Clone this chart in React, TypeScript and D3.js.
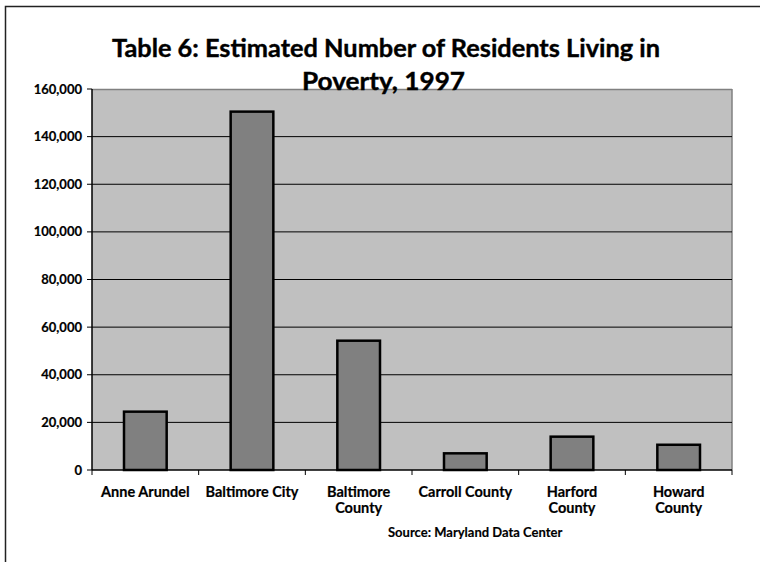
import React from "react";
import * as d3 from "d3";

const counties = ["Anne Arundel", "Baltimore City", "Baltimore County", "Carroll County", "Harford County", "Howard County"];
const countyLabels = [["Anne Arundel"], ["Baltimore City"], ["Baltimore", "County"], ["Carroll County"], ["Harford", "County"], ["Howard", "County"]];
const residents = [24500, 150500, 54300, 7000, 14000, 10600];
const yTicks = [0, 20000, 40000, 60000, 80000, 100000, 120000, 140000, 160000];

const W = 760;
const H = 562;
const plot = { left: 92, right: 732, top: 89, bottom: 470 };
const FONT = "Lato, 'DejaVu Sans', sans-serif";

export default function App() {
  const x = d3.scaleBand<string>().domain(counties).range([plot.left, plot.right]).padding(0);
  const y = d3.scaleLinear().domain([0, 160000]).range([plot.bottom, plot.top]);
  const barW = x.bandwidth() / 2.5;
  const fmt = d3.format(",");
  const bounds = counties.map((c) => x(c)!).concat([plot.right]);

  const title2 = (
    <text x={383.5} y={90} textAnchor="middle" fontSize={25} fontWeight="bold" fill="#000"
      stroke="#000" strokeWidth={0.4} textLength={163} lengthAdjust="spacingAndGlyphs">
      Poverty, 1997
    </text>
  );

  return (
    <svg width={W} height={H} style={{ position: "absolute", left: 0, top: 0, display: "block" }} fontFamily={FONT}>
      <rect x={0} y={0} width={W} height={H} fill="#fff" />
      {/* outer frame */}
      <rect x={5.5} y={6.5} width={W + 20} height={H + 20} fill="none" stroke="#222" strokeWidth={1.5} />

      {/* title */}
      <text x={386} y={57} textAnchor="middle" fontSize={25} fontWeight="bold" fill="#000"
        stroke="#000" strokeWidth={0.4} textLength={548} lengthAdjust="spacingAndGlyphs">
        Table 6: Estimated Number of Residents Living in
      </text>

      {/* plot area */}
      <rect x={plot.left} y={plot.top} width={plot.right - plot.left} height={plot.bottom - plot.top} fill="#c0c0c0" />
      <line x1={plot.left} x2={plot.right} y1={plot.top + 0.5} y2={plot.top + 0.5} stroke="#808080" strokeWidth={1.5} />
      <line x1={plot.right} x2={plot.right} y1={plot.top} y2={plot.bottom} stroke="#808080" strokeWidth={1.5} />

      {yTicks.filter((t) => t > 0 && t < 160000).map((t) => (
        <line key={t} x1={plot.left} x2={plot.right} y1={y(t)} y2={y(t)} stroke="#000" strokeWidth={1} />
      ))}

      {title2}

      {/* bars */}
      {counties.map((c, i) => (
        <rect
          key={c}
          x={x(c)! + (x.bandwidth() - barW) / 2}
          y={y(residents[i])}
          width={barW}
          height={plot.bottom - y(residents[i])}
          fill="#808080"
          stroke="#000"
          strokeWidth={2.5}
        />
      ))}

      {/* y axis */}
      <line x1={plot.left} x2={plot.left} y1={plot.top} y2={plot.bottom} stroke="#000" strokeWidth={1.5} />
      {yTicks.map((t) => (
        <g key={t}>
          <line x1={plot.left - 5} x2={plot.left} y1={y(t)} y2={y(t)} stroke="#000" strokeWidth={1} />
          <text x={82} y={y(t) + 4.5} textAnchor="end" fontSize={13} fontWeight="bold" fill="#000"
            stroke="#000" strokeWidth={0.2}>
            {fmt(t)}
          </text>
        </g>
      ))}

      {/* x axis */}
      <line x1={plot.left} x2={plot.right} y1={plot.bottom} y2={plot.bottom} stroke="#000" strokeWidth={1.5} />
      {bounds.map((b, i) => (
        <line key={i} x1={b} x2={b} y1={plot.bottom} y2={plot.bottom + 5} stroke="#000" strokeWidth={1} />
      ))}
      {counties.map((c, i) => (
        <text key={c} x={x(c)! + x.bandwidth() / 2} textAnchor="middle" fontSize={14.5} fontWeight="bold" fill="#000"
          stroke="#000" strokeWidth={0.2}>
          {countyLabels[i].map((ln, j) => (
            <tspan key={j} x={x(c)! + x.bandwidth() / 2} y={497 + j * 16}>
              {ln}
            </tspan>
          ))}
        </text>
      ))}

      <text x={388} y={537} fontSize={13} fontWeight="bold" fill="#000" stroke="#000" strokeWidth={0.15}>
        Source: Maryland Data Center
      </text>
    </svg>
  );
}
